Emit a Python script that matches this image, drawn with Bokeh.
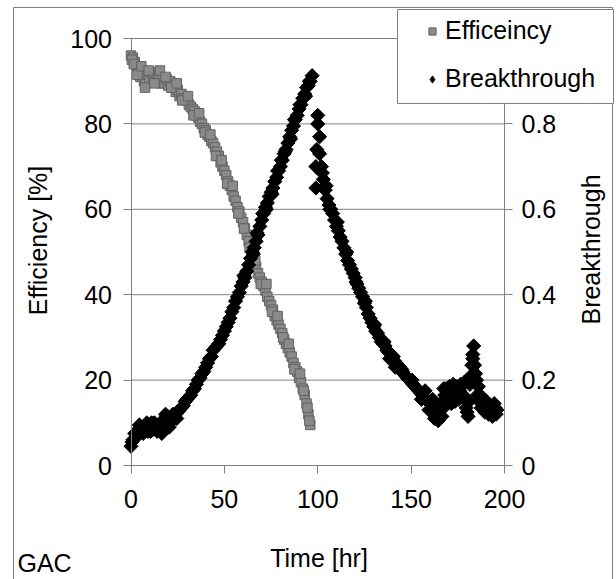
import math
from bokeh.plotting import figure
from bokeh.models import (Range1d, LinearAxis, FixedTicker, NumeralTickFormatter,
                          Label, BoxAnnotation, Legend, LegendItem)
from bokeh.embed import file_html
from bokeh.resources import INLINE

# ---------------- data ----------------
eff_time = [0, 1, 2, 3, 4, 5, 6, 7, 8, 9, 10, 11, 12, 13, 14, 15, 16, 17, 18, 19,
            20, 21, 22, 23, 24, 25, 26, 27, 28, 29, 30, 31, 32, 33, 34, 35, 36, 37, 38, 39,
            40, 41, 42, 43, 44, 45, 46, 47, 48, 49, 50, 51, 52, 53, 54, 55, 56, 57, 58, 59,
            60, 61, 62, 63, 64, 65, 66, 67, 68, 69, 70, 71, 72, 73, 74, 75, 76, 77, 78, 79,
            80, 81, 82, 83, 84, 85, 86, 87, 88, 89, 90, 91, 92, 93, 94, 95, 96,
            0.5, 1.5, 3.5, 5.5, 7.5, 9.5, 12.5, 15.5, 18.5, 21.5, 24.5, 27.5, 30.5, 33.5,
            36.5, 39.5, 42.5, 45.5, 48.5, 51.5, 54.5, 57.5, 60.5, 63.5, 66.5, 69.5, 72.5,
            75.5, 78.5, 81.5, 84.5, 87.5, 90.5, 92.5, 94.5, 95.5]
eff_pct = [96.0, 95.5, 94.5, 93.5, 92.0, 91.0, 92.5, 90.0, 89.5, 91.5, 90.5, 92.0, 91.0, 92.0,
           90.5, 91.5, 89.5, 90.5, 89.5, 90.5, 89.0, 90.0, 88.5, 89.0, 87.5, 88.0, 86.5, 87.0,
           86.0, 86.0, 85.5, 84.5, 84.0, 83.5, 83.0, 82.0, 81.5, 80.5, 80.0, 79.0, 78.5, 77.5,
           77.0, 76.0, 75.5, 74.5, 73.5, 72.5, 71.0, 70.0, 69.0, 68.0, 66.5, 65.5, 64.5, 63.0,
           62.0, 60.5, 59.5, 58.0, 57.0, 55.5, 54.0, 52.5, 51.0, 49.0, 47.5, 46.5, 45.0, 44.0,
           43.0, 42.0, 41.0, 39.5, 38.5, 37.5, 36.5, 35.0, 34.0, 33.0, 32.0, 31.0, 29.5, 28.5,
           27.5, 26.5, 25.5, 24.0, 23.0, 22.0, 20.5, 19.5, 18.0, 16.5, 14.5, 12.0, 9.5,
           95.0, 94.0, 91.5, 93.5, 88.5, 92.5, 89.5, 92.5, 91.0, 88.5, 89.5, 85.5, 86.5, 82.0,
           82.5, 78.0, 77.5, 72.5, 71.5, 66.0, 65.5, 59.0, 55.5, 51.0, 48.0, 42.5, 42.5,
           36.0, 35.0, 30.0, 28.5, 22.5, 21.5, 17.5, 13.5, 10.5]

bt_time = [0, 1, 2, 3, 4, 5, 6, 7, 8, 9, 10, 11, 12, 13, 14, 15, 16, 17, 18, 19,
           20, 21, 22, 23, 24, 25, 26, 27, 28, 29, 30, 31, 32, 33, 34, 35, 36, 37, 38, 39,
           40, 41, 42, 43, 44, 45, 46, 47, 48, 49, 50, 51, 52, 53, 54, 55, 56, 57, 58, 59,
           60, 61, 62, 63, 64, 65, 66, 67, 68, 69, 70, 71, 72, 73, 74, 75, 76, 77, 78, 79,
           80, 81, 82, 83, 84, 85, 86, 87, 88, 89, 90, 91, 92, 93, 94, 95, 96, 97,
           99, 99, 99.5, 100, 100, 101, 101, 102, 103, 104, 105, 106, 107, 108, 109,
           110, 111, 112, 113, 114, 115, 116, 117, 118, 119, 120, 121, 122, 123, 124, 125,
           126, 127, 128, 129, 130, 131, 132, 133, 134, 135, 136, 137, 138, 139, 140, 141,
           142, 143, 144, 145, 146, 147, 148, 149, 150, 151, 152, 153, 154, 155, 156, 157,
           158, 159, 160, 161, 162, 163, 164, 165, 166, 167, 168, 169, 170, 171, 172, 173,
           174, 175, 176, 177, 178, 179, 180, 181, 182, 183, 183.5, 184, 185, 186, 187,
           188, 189, 190, 191, 192, 193, 194, 195, 196]
bt_value = [0.045, 0.06, 0.075, 0.07, 0.085, 0.08, 0.09, 0.085, 0.095, 0.08, 0.09, 0.10,
            0.085, 0.095, 0.08, 0.09, 0.085, 0.10, 0.11, 0.095, 0.105, 0.10, 0.11, 0.115,
            0.12, 0.125, 0.13, 0.135, 0.14, 0.15, 0.155, 0.16, 0.165, 0.175, 0.18, 0.19,
            0.20, 0.205, 0.215, 0.22, 0.23, 0.24, 0.25, 0.255, 0.27, 0.275, 0.28, 0.285,
            0.295, 0.305, 0.315, 0.325, 0.335, 0.345, 0.36, 0.37, 0.385, 0.395, 0.405, 0.42,
            0.43, 0.44, 0.455, 0.47, 0.485, 0.50, 0.51, 0.525, 0.54, 0.56, 0.575, 0.59,
            0.605, 0.615, 0.63, 0.64, 0.65, 0.665, 0.675, 0.69, 0.70, 0.715, 0.73, 0.74,
            0.755, 0.77, 0.785, 0.795, 0.81, 0.82, 0.835, 0.845, 0.86, 0.87, 0.885, 0.89,
            0.90, 0.913,
            0.70, 0.65, 0.74, 0.82, 0.80, 0.77, 0.73, 0.70, 0.67, 0.645, 0.625, 0.61, 0.60,
            0.59, 0.575, 0.56, 0.55, 0.535, 0.525, 0.51, 0.495, 0.48, 0.47, 0.46, 0.45,
            0.44, 0.425, 0.415, 0.405, 0.395, 0.38, 0.37, 0.355, 0.345, 0.335, 0.325, 0.315,
            0.31, 0.30, 0.29, 0.285, 0.28, 0.27, 0.265, 0.26, 0.25, 0.245, 0.24, 0.235,
            0.23, 0.225, 0.215, 0.21, 0.205, 0.20, 0.195, 0.19, 0.185, 0.18, 0.175, 0.17,
            0.165, 0.16, 0.155, 0.15, 0.145, 0.135, 0.13, 0.12, 0.11, 0.115, 0.13, 0.15,
            0.165, 0.18, 0.17, 0.165, 0.175, 0.165, 0.17, 0.18, 0.175, 0.185, 0.19, 0.16,
            0.125, 0.15, 0.21, 0.25, 0.28, 0.235, 0.20, 0.185, 0.165, 0.155, 0.15, 0.14,
            0.135, 0.13, 0.125, 0.125, 0.135, 0.13]
# additional, scattered breakthrough readings (the band is thick in the original)
bt_extra_time = [0.5, 2.5, 4.5, 6.5, 8.5, 10.5, 12.5, 14.5, 16.5, 18.5, 20.5, 22.5, 24.5,
                 60.5, 65.5, 67.5, 70.5, 72.5, 75.5, 78.5, 80.5, 82.5, 85.5, 87.5, 90.5,
                 93.5, 95.5,
                 102.5, 104.5, 106.5, 110.5, 115.5, 120.5, 125.5, 130.5, 135.5, 138.5,
                 140.5, 141.5, 145.5, 150.5,
                 155.5, 157.5, 159.5, 161.5, 162.5, 163.5, 164.5, 165.5, 166.5, 167.5,
                 168.5, 169.5, 170.5, 171.5, 172.5, 173.5, 174.5, 175.5, 176.5, 177.5,
                 178.5, 179.5, 180.5, 181.5, 182.5, 183, 184.5, 185.5, 186.5, 187.5,
                 188.5, 189.5, 190.5, 191.5, 192.5, 193.5, 194.5, 195.5]
bt_extra_value = [0.055, 0.065, 0.095, 0.075, 0.10, 0.08, 0.10, 0.095, 0.075, 0.12, 0.09,
                  0.12, 0.11,
                  0.445, 0.495, 0.545, 0.59, 0.60, 0.635, 0.69, 0.715, 0.735, 0.765, 0.81,
                  0.845, 0.865, 0.90,
                  0.685, 0.655, 0.60, 0.57, 0.50, 0.43, 0.385, 0.33, 0.29, 0.25,
                  0.255, 0.23, 0.22, 0.20,
                  0.155, 0.175, 0.13, 0.155, 0.11, 0.14, 0.105, 0.14, 0.115, 0.18,
                  0.14, 0.16, 0.185, 0.145, 0.19, 0.15, 0.185, 0.155, 0.19, 0.16,
                  0.195, 0.135, 0.115, 0.19, 0.235, 0.26, 0.215, 0.165, 0.15, 0.135,
                  0.14, 0.125, 0.15, 0.12, 0.14, 0.115, 0.145, 0.12]

x_ticks = [0, 50, 100, 150, 200]
left_ticks = [0, 20, 40, 60, 80, 100]
right_ticks = [0, 0.2, 0.4, 0.6, 0.8, 1.0]

FONT = "Liberation Sans"
GREY = "#808080"
EFF_FILL, EFF_LINE = "#8a8a8a", "#626262"
W, H = 616, 579
# pixel placement of the plotting box inside the page
PX_L, PX_R, PX_T, PX_B = 130.5, 504.0, 38.0, 465.0

xs = (PX_R - PX_L) / (x_ticks[-1] - x_ticks[0])
ys = (PX_B - PX_T) / (left_ticks[-1] - left_ticks[0])
x_lo = x_ticks[0] - PX_L / xs
x_hi = x_ticks[-1] + (W - PX_R) / xs
y_lo = left_ticks[0] - (H - PX_B) / ys
y_hi = left_ticks[-1] + PX_T / ys
k = right_ticks[-1] / left_ticks[-1]

p = figure(width=W, height=H, x_range=Range1d(x_lo, x_hi), y_range=Range1d(y_lo, y_hi),
           x_axis_type=None, y_axis_type=None,
           output_backend="svg", toolbar_location=None,
           min_border=0, min_border_left=0, min_border_right=0,
           min_border_top=0, min_border_bottom=0)
p.outline_line_color = None
p.background_fill_color = "white"
p.border_fill_color = "white"
p.extra_y_ranges = {"bt": Range1d(y_lo * k, y_hi * k)}

ax_b = LinearAxis(ticker=FixedTicker(ticks=x_ticks), fixed_location=left_ticks[0],
                  bounds=(x_ticks[0], x_ticks[-1]))
ax_l = LinearAxis(ticker=FixedTicker(ticks=left_ticks), fixed_location=x_ticks[0],
                  bounds=(left_ticks[0], left_ticks[-1]))
ax_r = LinearAxis(y_range_name="bt", ticker=FixedTicker(ticks=right_ticks),
                  formatter=NumeralTickFormatter(format="0.[0]"),
                  fixed_location=x_ticks[-1], bounds=(right_ticks[0], right_ticks[-1]))
p.add_layout(ax_b, "below")
p.add_layout(ax_l, "left")
p.add_layout(ax_r, "right")

for ax in [ax_b, ax_l, ax_r]:
    ax.axis_line_color = GREY
    ax.major_tick_line_color = GREY
    ax.major_tick_in = 0
    ax.major_tick_out = 8
    ax.minor_tick_line_color = None
    ax.major_label_text_font = FONT
    ax.major_label_text_font_size = "25px"
    ax.major_label_text_color = "black"
ax_b.major_label_standoff = 16
ax_l.major_label_standoff = 11
ax_r.major_label_standoff = 9

# horizontal grid lines at the left-axis ticks, spanning the time axis
p.segment(x0=[x_ticks[0]] * len(left_ticks), x1=[x_ticks[-1]] * len(left_ticks),
          y0=left_ticks, y1=left_ticks, line_color=GREY, line_width=1, level="underlay")

r_eff = p.scatter(eff_time, eff_pct, marker="square", size=9.5,
                  fill_color=EFF_FILL, line_color=EFF_LINE)
r_bt = p.scatter(bt_time + bt_extra_time, bt_value + bt_extra_value, y_range_name="bt",
                 marker="square", angle=math.pi / 4, size=10,
                 fill_color="black", line_color="black")

# renderers used only for the legend glyphs (no visible point)
nan = float("nan")
leg_eff = p.scatter([nan], [nan], marker="square", fill_color=EFF_FILL, line_color=EFF_LINE)
leg_bt = p.scatter([nan], [nan], marker="diamond", fill_color="black", line_color="black")

# outer chart border and legend box (screen units = page pixels from bottom-left)
p.add_layout(BoxAnnotation(left=13, right=612, top=H - 7, bottom=-10,
                           left_units="screen", right_units="screen",
                           top_units="screen", bottom_units="screen",
                           fill_alpha=0, line_color=GREY, line_alpha=1, line_width=1))
p.add_layout(BoxAnnotation(left=397, right=613, top=H - 9, bottom=H - 103,
                           left_units="screen", right_units="screen",
                           top_units="screen", bottom_units="screen",
                           fill_color="white", fill_alpha=1, line_color=GREY,
                           line_alpha=1, line_width=1))

legend = Legend(items=[LegendItem(label="Efficeincy", renderers=[leg_eff]),
                       LegendItem(label="Breakthrough", renderers=[leg_bt])],
                location=(423, H - 93), padding=0, margin=0, spacing=19,
                glyph_width=18, glyph_height=28, label_height=28, label_standoff=4,
                label_text_font=FONT, label_text_font_size="25px",
                label_text_color="black",
                border_line_alpha=0, background_fill_alpha=0)
p.add_layout(legend, "center")

for txt, x, y, ang, align, base in [
        ("Efficiency [%]", 37, H - 240, math.pi / 2, "center", "middle"),
        ("Breakthrough", 590, H - 249, math.pi / 2, "center", "middle"),
        ("Time [hr]", 318.5, H - 557, 0, "center", "alphabetic"),
        ("GAC", 17, H - 562, 0, "left", "alphabetic")]:
    p.add_layout(Label(x=x, y=y, x_units="screen", y_units="screen", text=txt, angle=ang,
                       text_align=align, text_baseline=base, text_font=FONT,
                       text_font_size="25px", text_color="black"))

open("out.html", "w").write(file_html(p, INLINE))
